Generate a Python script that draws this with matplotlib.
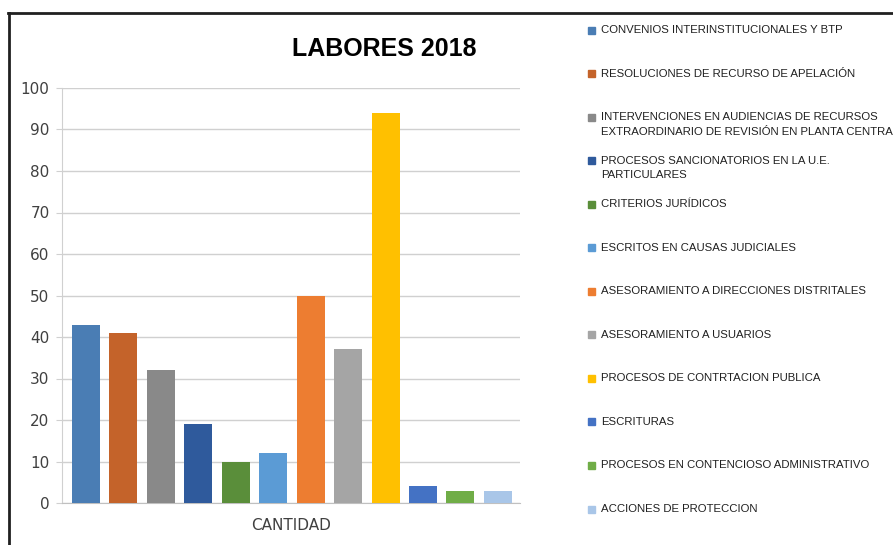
import matplotlib.pyplot as plt
from matplotlib.patches import Rectangle
from matplotlib.lines import Line2D

categories = [
    'CONVENIOS INTERINSTITUCIONALES Y BTP',
    'RESOLUCIONES DE RECURSO DE APELACIÓN',
    'INTERVENCIONES EN AUDIENCIAS DE RECURSOS\nEXTRAORDINARIO DE REVISIÓN EN PLANTA CENTRAL',
    'PROCESOS SANCIONATORIOS EN LA U.E.\nPARTICULARES',
    'CRITERIOS JURÍDICOS',
    'ESCRITOS EN CAUSAS JUDICIALES',
    'ASESORAMIENTO A DIRECCIONES DISTRITALES',
    'ASESORAMIENTO A USUARIOS',
    'PROCESOS DE CONTRTACION PUBLICA',
    'ESCRITURAS',
    'PROCESOS EN CONTENCIOSO ADMINISTRATIVO',
    'ACCIONES DE PROTECCION',
]
values = [43, 41, 32, 19, 10, 12, 50, 37, 94, 4, 3, 3]
colors = ['#4A7DB4', '#C4632A', '#898989', '#2F5A9C', '#5A8E3A', '#5B9BD5',
          '#ED7D31', '#A5A5A5', '#FFC000', '#4472C4', '#70AD47', '#A9C6E8']
yticks = [0, 10, 20, 30, 40, 50, 60, 70, 80, 90, 100]

fig = plt.figure(figsize=(8.93, 5.45), dpi=100)
ax = fig.add_axes([62 / 893, 1 - 503 / 545, 458 / 893, 415 / 545])

x = list(range(len(values)))
ax.bar(x, values, width=0.75, color=colors, zorder=3)
ax.set_xlim(-0.64, 11.59)
ax.set_ylim(0, 100)
ax.set_yticks(yticks)
ax.yaxis.grid(True, color='#D0D0D0', linewidth=1, zorder=0)
ax.set_xticks([])
ax.tick_params(axis='y', length=4, color='#D0D0D0', labelsize=11, labelcolor='#404040', pad=5)
for s in ['top', 'right']:
    ax.spines[s].set_visible(False)
ax.spines['left'].set_color('#D0D0D0')
ax.spines['bottom'].set_color('#C0C0C0')
ax.set_xlabel('CANTIDAD', fontsize=11, color='#404040', labelpad=11)

fig.text(384 / 893, 1 - 49 / 545, 'LABORES 2018', fontsize=18, fontweight='bold',
         family='Liberation Sans', ha='center', va='center')

# legend drawn by hand so wrapped labels keep the even spacing
for i, (lab, col) in enumerate(zip(categories, colors)):
    yc = 1 - (30 + i * 43.55) / 545
    fig.add_artist(Rectangle((588 / 893, yc - 3.5 / 545), 7 / 893, 7 / 545,
                             transform=fig.transFigure, color=col))
    fig.text(601 / 893, yc + 5 / 545, lab, fontsize=8.2, family='Liberation Sans',
             color='#202020', va='top', ha='left', linespacing=1.6)

# outer frame lines
fig.add_artist(Line2D([8 / 893, 1], [1 - 13 / 545] * 2, color='#202020', linewidth=2,
                      transform=fig.transFigure))
fig.add_artist(Line2D([9 / 893] * 2, [0, 1 - 13 / 545], color='#202020', linewidth=2,
                      transform=fig.transFigure))

fig.savefig('out.png', dpi=100)
